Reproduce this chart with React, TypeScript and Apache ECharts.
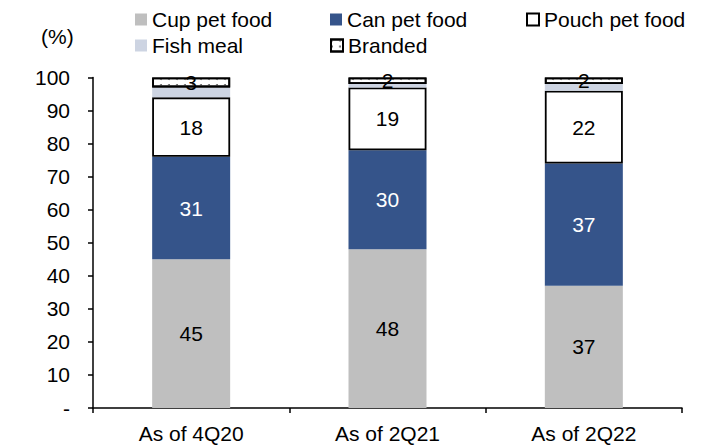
import React, { useEffect, useRef } from "react";
import * as echarts from "echarts";

// Periods shown on the x axis
const categories = ["As of 4Q20", "As of 2Q21", "As of 2Q22"];

// Revenue mix by product (%)
const cupPetFood = [45, 48, 37];
const canPetFood = [31, 30, 37];
const pouchPetFood = [18, 19, 22];
const fishMeal = [3, 1, 2];
const branded = [3, 2, 2];

const yTicks = [0, 10, 20, 30, 40, 50, 60, 70, 80, 90, 100];

const FONT = "'Liberation Sans', Arial, sans-serif";
const FS = 21;

export default function App() {
  const ref = useRef<HTMLDivElement>(null);

  useEffect(() => {
    if (!ref.current) return;
    const chart = echarts.init(ref.current, undefined, { renderer: "svg" });

    const label = (color: string) => ({
      show: true,
      position: "inside" as const,
      color,
      fontSize: FS,
      fontFamily: FONT,
    });

    const legendAt = (name: string, left: number, top: number) => ({
      data: [{ name, icon: "rect" }],
      left,
      top,
      itemWidth: 12,
      itemHeight: 12,
      itemGap: 0,
      padding: 0,
      textStyle: { fontSize: FS, fontFamily: FONT, color: "#000" },
      selectedMode: false,
    });

    chart.setOption({
      animation: false,
      textStyle: { fontFamily: FONT },
      legend: [
        legendAt("Cup pet food", 135, 9),
        legendAt("Can pet food", 330, 9),
        legendAt("Pouch pet food", 526, 9),
        legendAt("Fish meal", 135, 35),
        legendAt("Branded", 330, 35),
      ],
      graphic: [
        {
          type: "text",
          left: 41,
          top: 26,
          style: { text: "(%)", fontSize: FS, fontFamily: FONT, fill: "#000" },
        },
      ],
      grid: { left: 93, right: 22, top: 77.5, bottom: 37, containLabel: false },
      xAxis: {
        type: "category",
        data: categories,
        boundaryGap: true,
        axisLine: { lineStyle: { color: "#000", width: 1.5 } },
        axisTick: { show: true, length: 5, lineStyle: { color: "#000", width: 1.5 } },
        axisLabel: { color: "#000", fontSize: FS, fontFamily: FONT, margin: 15 },
      },
      yAxis: {
        type: "value",
        min: yTicks[0],
        max: yTicks[yTicks.length - 1],
        interval: 10,
        splitLine: { show: false },
        axisLine: { show: true, lineStyle: { color: "#000", width: 1.5 } },
        axisTick: { show: true, length: 5, lineStyle: { color: "#000", width: 1.5 } },
        axisLabel: {
          color: "#000",
          fontSize: FS,
          fontFamily: FONT,
          margin: 23,
          formatter: (v: number) => (v === 0 ? "-" : String(v)),
        },
      },
      series: [
        {
          name: "Cup pet food",
          type: "bar",
          stack: "mix",
          barWidth: 78,
          data: cupPetFood,
          itemStyle: { color: "#BFBFBF" },
          label: label("#000"),
        },
        {
          name: "Can pet food",
          type: "bar",
          stack: "mix",
          data: canPetFood,
          itemStyle: { color: "#35548A" },
          label: label("#fff"),
        },
        {
          name: "Pouch pet food",
          type: "bar",
          stack: "mix",
          data: pouchPetFood,
          itemStyle: { color: "#fff", borderColor: "#000", borderWidth: 1.8 },
          label: label("#000"),
        },
        {
          name: "Fish meal",
          type: "bar",
          stack: "mix",
          data: fishMeal,
          itemStyle: { color: "#CDD4E2" },
          label: { show: false },
        },
        {
          name: "Branded",
          type: "bar",
          stack: "mix",
          data: branded,
          itemStyle: {
            color: "#fff",
            borderColor: "#000",
            borderWidth: 1.8,
            decal: {
              symbol: "circle",
              symbolSize: 1,
              color: "#666",
              backgroundColor: "#fff",
              dashArrayX: [[2, 6]],
              dashArrayY: [2, 4],
            },
          },
          label: label("#000"),
        },
      ],
    });

    return () => chart.dispose();
  }, []);

  return (
    <div
      ref={ref}
      style={{ position: "fixed", left: 0, top: 0, width: 704, height: 445, background: "#fff" }}
    />
  );
}
